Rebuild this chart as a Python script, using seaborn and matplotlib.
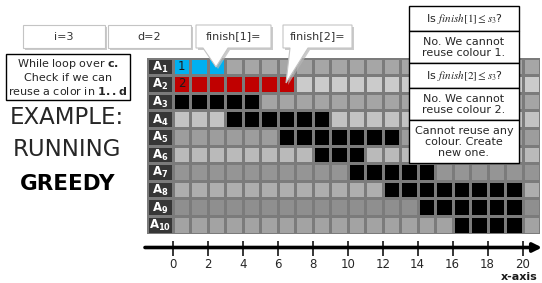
import numpy as np
import pandas as pd
import matplotlib
matplotlib.use("Agg")
import matplotlib.pyplot as plt
import seaborn as sns
from matplotlib.colors import ListedColormap
from matplotlib.patches import Rectangle, Polygon

# ---------------- data ----------------
activity_names = ["A1", "A2", "A3", "A4", "A5", "A6", "A7", "A8", "A9", "A10"]
starts = [0, 0, 0, 3, 6, 8, 10, 12, 14, 16]
finishes = [3, 7, 5, 9, 13, 11, 15, 20, 20, 20]
colour_ids = [1, 2, 0, 0, 0, 0, 0, 0, 0, 0]      # 0 = not coloured yet
cell_text = {0: "1", 1: "2"}                     # row -> label written in first cell
n_slots = 21
tick_values = list(range(0, 21, 2))

row_shades = ["#a6a6a6", "#cbcbcb", "#a5a5a5", "#c3c3c3", "#9d9d9d",
              "#bababa", "#959595", "#aeaeae", "#8f8f8f", "#a3a3a3"]
colour_palette = ["#000000", "#00b0f0", "#c00000"]

# ---------------- figure ----------------
sns.set_theme(style="white")
plt.rcParams["font.family"] = ["DejaVu Sans"]
W, H = 542, 283
fig = plt.figure(figsize=(W / 100, H / 100), dpi=100)
fig.patch.set_facecolor("white")


def px_axes(x0, y0, x1, y1):
    return fig.add_axes([x0 / W, 1 - y1 / H, (x1 - x0) / W, (y1 - y0) / H])


GX0, GX1, GY0, GY1 = 173, 540, 57.5, 233.5
LX0 = 147

# grid matrix of colour codes
codes = np.zeros((len(activity_names), n_slots), dtype=int)
annot = np.full(codes.shape, "", dtype=object)
for i, (s, f, c) in enumerate(zip(starts, finishes, colour_ids)):
    codes[i, :] = i
    codes[i, s:f] = len(row_shades) + c
for r, t in cell_text.items():
    annot[r, starts[r]] = t
df = pd.DataFrame(codes, index=activity_names, columns=range(n_slots))

cmap = ListedColormap(row_shades + colour_palette)
ax_grid = px_axes(GX0, GY0, GX1, GY1)
sns.heatmap(df, ax=ax_grid, cmap=cmap, vmin=-0.5, vmax=len(row_shades) + len(colour_palette) - 0.5,
            cbar=False, linewidths=0.9, linecolor="#7b7b7b", annot=annot, fmt="",
            annot_kws=dict(color="#1a1a1a", fontsize=8.5),
            xticklabels=False, yticklabels=False)
ax_grid.tick_params(left=False, bottom=False)

# label column
ax_lab = px_axes(LX0, GY0, GX0, GY1)
lab_df = pd.DataFrame(np.zeros((len(activity_names), 1)), index=activity_names)
sns.heatmap(lab_df, ax=ax_lab, cmap=ListedColormap(["#363636"]), cbar=False,
            linewidths=0.9, linecolor="#7b7b7b", xticklabels=False, yticklabels=False)
ax_lab.tick_params(left=False, bottom=False)
for i, name in enumerate(activity_names):
    ax_lab.text(0.5, i + 0.55, r"$\mathbf{A}_{\mathbf{%s}}$" % name[1:], color="white",
                ha="center", va="center", fontsize=8.5, math_fontfamily="dejavusans")

# number line
NX0, NX1 = 145, 542
unit = (GX1 - GX0) / n_slots
ax_num = px_axes(NX0, 246, NX1, 247.5)
ax_num.set_xlim((NX0 - GX0) / unit, (NX1 - GX0) / unit)
ax_num.set_ylim(0, 1)
for sp in ax_num.spines.values():
    sp.set_visible(False)
ax_num.set_facecolor("none")
ax_num.set_yticks([])
ax_num.set_xticks(tick_values)
ax_num.set_xticklabels([str(v) for v in tick_values])
ax_num.tick_params(axis="x", direction="inout", length=10.8, width=1.1, color="black",
                   labelsize=8.5, labelcolor="#262626", pad=2.5, bottom=True)
ax_num.annotate("", xy=((NX1 - GX0) / unit, 0), xytext=((NX0 - GX0) / unit, 0),
                arrowprops=dict(arrowstyle="-|>", lw=2.6, color="black",
                                shrinkA=0, shrinkB=0, mutation_scale=13),
                annotation_clip=False)

# ---------------- overlay (annotations) ----------------
ov = fig.add_axes([0, 0, 1, 1])
ov.set_xlim(0, W)
ov.set_ylim(H, 0)
ov.axis("off")
ov.set_zorder(10)
ov.patch.set_visible(False)


def bubble(x0, y0, x1, y1, text, wedge=None):
    pts = [(x0, y0), (x1, y0), (x1, y1)]
    if wedge:
        (wl, wr, tip) = wedge
        pts += [(wr, y1), tip, (wl, y1)]
    pts += [(x0, y1)]
    shadow = [(x + 2, y + 2) for x, y in pts]
    ov.add_patch(Polygon(shadow, closed=True, fc="#b5b5b5", ec="none", alpha=0.7))
    ov.add_patch(Polygon(pts, closed=True, fc="white", ec="#c4c4c4", lw=0.8))
    ov.text((x0 + x1) / 2, (y0 + y1) / 2, text, ha="center", va="center",
            fontsize=8, color="#333333")


bubble(23, 25, 105, 48, "i=3")
bubble(108, 25, 191, 48, "d=2")
bubble(196, 25, 271, 48, "finish[1]=", wedge=(203, 228, (216, 67)))
bubble(283, 25, 352, 48, "finish[2]=", wedge=(290, 308, (286, 83)))

# right-hand decision boxes
right_boxes = [
    (6, 31, r"Is $finish[1] \leq s_3$?"),
    (31, 63, "No. We cannot\nreuse colour 1."),
    (63, 87.5, r"Is $finish[2] \leq s_3$?"),
    (87.5, 120, "No. We cannot\nreuse colour 2."),
    (120, 163, "Cannot reuse any\ncolour. Create\nnew one."),
]
for y0, y1, txt in right_boxes:
    ov.add_patch(Rectangle((409, y0), 110, y1 - y0, fc="white", ec="black", lw=1))
    ov.text(464, (y0 + y1) / 2 + 0.5, txt, ha="center", va="center", fontsize=8,
            color="#262626", linespacing=1.15, math_fontfamily="stix")

# left explanation box
ov.add_patch(Rectangle((6, 54), 124, 46, fc="white", ec="black", lw=1))
ov.text(68, 77, "While loop over $\\mathbf{c.}$\nCheck if we can\nreuse a color in $\\mathbf{1..d}$",
        ha="center", va="center", fontsize=8, color="#262626", linespacing=1.2,
        math_fontfamily="dejavusans")

ov.text(67, 118, "EXAMPLE:", ha="center", va="center", fontsize=16.5, color="#262626")
ov.text(67, 150, "RUNNING", ha="center", va="center", fontsize=16.5, color="#262626")
ov.text(68, 184, "GREEDY", ha="center", va="center", fontsize=15.5, color="black",
        fontweight="bold")

ov.text(538, 277, "x-axis", ha="right", va="center", fontsize=8, fontweight="bold",
        color="#1a1a1a")

fig.savefig("out.png", dpi=100, facecolor="white")
